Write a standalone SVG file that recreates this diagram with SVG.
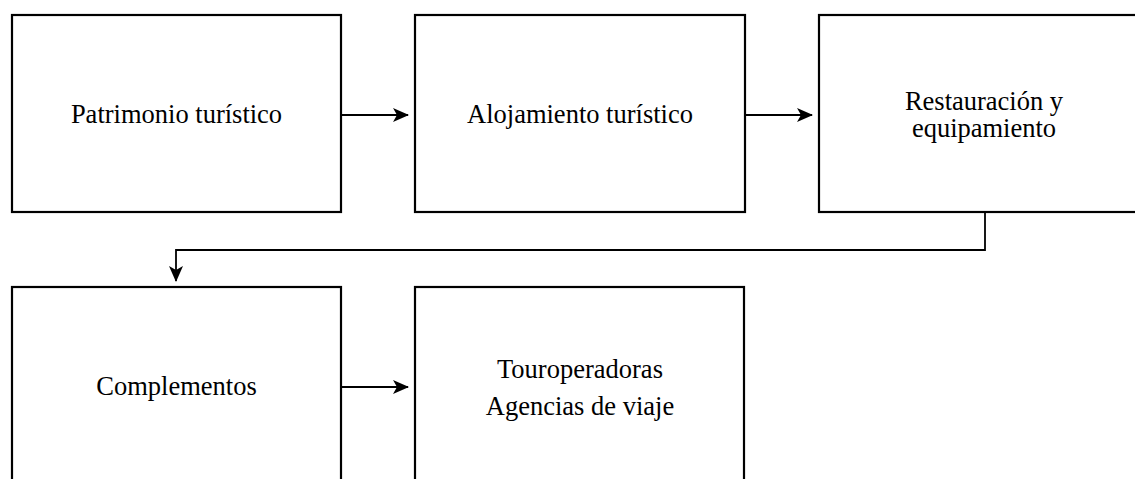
<svg xmlns="http://www.w3.org/2000/svg" width="1135" height="479" viewBox="0 0 1135 479">
<style>
.box{fill:#fff;stroke:#000;stroke-width:2.2}
.t{font-family:"Liberation Serif","Times New Roman",serif;font-size:26.5px;fill:#000;text-anchor:middle}
.c{fill:none;stroke:#000;stroke-width:1.8}
</style>
<defs>
<marker id="ah" viewBox="0 0 16 14" refX="15" refY="7" markerWidth="16" markerHeight="14" markerUnits="userSpaceOnUse" orient="auto">
<path d="M0,0 L16,7 L0,14 L4,7 Z" fill="#000"/>
</marker>
</defs>
<rect width="1135" height="479" fill="#fff"/>
<g id="n1"><rect class="box" x="12" y="15" width="329" height="197"/><text class="t" x="176.5" y="123">Patrimonio turístico</text></g>
<g id="n2"><rect class="box" x="415" y="15" width="330" height="197"/><text class="t" x="580" y="123">Alojamiento turístico</text></g>
<g id="n3"><rect class="box" x="819" y="15" width="330" height="197"/><text class="t" x="984" y="110">Restauración y</text><text class="t" x="984" y="137">equipamiento</text></g>
<g id="n4"><rect class="box" x="12" y="287" width="329" height="210"/><text class="t" x="176.5" y="395">Complementos</text></g>
<g id="n5"><rect class="box" x="415" y="287" width="329" height="210"/><text class="t" x="580" y="378">Touroperadoras</text><text class="t" x="580" y="415">Agencias de viaje</text></g>
<g id="connectors">
<path class="c" d="M341,115 L408,115" marker-end="url(#ah)"/>
<path class="c" d="M745,115 L812,115" marker-end="url(#ah)"/>
<path class="c" d="M985,212 L985,250 L176,250 L176,281" marker-end="url(#ah)"/>
<path class="c" d="M341,387 L408,387" marker-end="url(#ah)"/>
</g>
</svg>
